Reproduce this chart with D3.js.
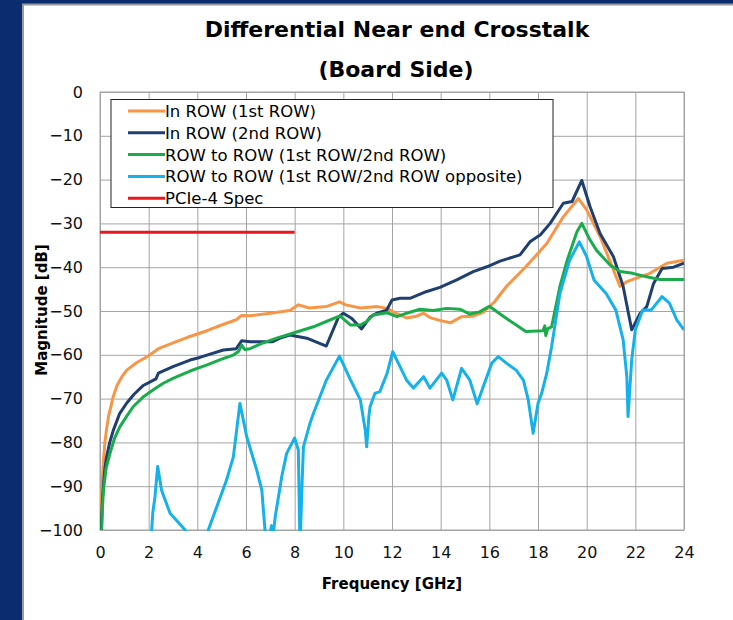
<!DOCTYPE html>
<meta charset="utf-8">
<title>Differential Near end Crosstalk</title>
<style>
body { margin: 0; background: #0b2a6b; }
svg { display: block; font-family: "DejaVu Sans", Verdana, sans-serif; }
.grid line, .grid path { stroke: #a4a4a4; stroke-width: 1; }
.tick text { fill: #111; font-size: 16px; }
</style>
<body>
<script src="https://cdn.jsdelivr.net/npm/d3@7"></script>
<script>
'use strict';

// values: [GHz, dB]
const inRow1 = [[0.02,-100],[0.06,-93],[0.12,-86],[0.2,-80],[0.27,-77],[0.35,-74],[0.44,-72],[0.54,-69.6],[0.7,-67],[0.9,-65],[1.1,-63.5],[1.5,-61.8],[2.0,-60.2],[2.4,-58.6],[3.0,-57.3],[3.6,-56],[4.4,-54.5],[4.8,-53.6],[5.6,-52],[5.82,-51],[6.17,-51.1],[7.0,-50.5],[7.8,-49.9],[8.15,-48.6],[8.6,-49.3],[9.3,-49],[9.84,-47.9],[10.1,-48.6],[10.7,-49.3],[11.4,-49],[11.8,-49.4],[12.05,-50.2],[12.6,-51.6],[13.0,-51.2],[13.3,-50.5],[13.56,-51.5],[14.0,-52.2],[14.4,-52.7],[14.85,-51.3],[15.3,-51.2],[15.75,-50.3],[16.2,-48],[16.7,-44.4],[17.5,-39.9],[18.36,-34.6],[19.04,-28.5],[19.66,-24.3],[20.0,-26.9],[20.55,-33],[21.1,-40.6],[21.37,-44.4],[21.65,-43.3],[22.05,-42.5],[22.6,-41.4],[23.3,-39.1],[24,-38.4]];

const inRow2 = [[0.05,-100],[0.1,-93],[0.14,-90],[0.2,-86],[0.27,-83.3],[0.4,-80],[0.55,-77.2],[0.8,-73.5],[1.1,-71],[1.4,-69],[1.78,-67],[2.2,-65.8],[2.3,-65.5],[2.4,-64.2],[3.0,-62.7],[3.7,-61.2],[4.1,-60.6],[5.07,-58.9],[5.6,-58.6],[5.82,-56.8],[6.17,-57],[7.1,-57],[7.4,-56.2],[7.8,-55.5],[8.5,-56.2],[9.3,-58],[9.8,-51.4],[10.0,-50.5],[10.35,-51.7],[10.75,-54.1],[11.1,-51.4],[11.37,-50.5],[11.78,-49.8],[12.0,-47.5],[12.33,-47.1],[12.74,-47.1],[13.4,-45.6],[13.97,-44.6],[14.66,-42.9],[15.34,-41],[15.9,-39.9],[16.44,-38.6],[17.26,-37.2],[17.67,-34.2],[18.1,-32.6],[18.5,-30],[19.04,-25.4],[19.4,-25],[19.8,-20.2],[20.14,-26.2],[20.55,-32.3],[21.1,-37.6],[21.5,-44.4],[21.85,-54.3],[22.2,-50.5],[22.47,-49],[22.75,-43.7],[23.1,-40.3],[23.57,-40],[24,-39.1]];

const rowToRow = [[0.07,-100],[0.1,-95],[0.14,-90.9],[0.25,-86],[0.41,-82.5],[0.6,-79],[0.82,-76.4],[1.1,-74],[1.37,-71.8],[1.8,-69.5],[2.19,-68],[2.6,-66.5],[3.0,-65.4],[3.7,-63.7],[4.4,-62.3],[5.0,-61],[5.5,-60],[5.7,-59.2],[5.82,-57.8],[5.95,-58.8],[6.17,-58.6],[6.6,-57.5],[7.26,-56.2],[8.08,-54.8],[8.77,-53.6],[9.3,-52.4],[9.86,-51.1],[10.3,-53.2],[10.7,-53.2],[10.96,-52.4],[11.23,-50.9],[11.8,-50.4],[12.2,-51.3],[12.6,-50.5],[13.15,-49.6],[13.7,-49.9],[14.25,-49.4],[14.8,-49.6],[15.2,-50.7],[15.6,-50.2],[16.0,-48.9],[16.6,-51.3],[17.5,-54.7],[18.2,-54.5],[18.28,-53.4],[18.32,-55.6],[18.4,-54],[18.56,-53.6],[18.9,-44.4],[19.2,-38.4],[19.6,-31.9],[19.8,-30],[20.14,-33.8],[20.4,-36.1],[20.96,-39.5],[21.37,-41],[21.9,-41.4],[22.47,-42.2],[23.0,-42.8],[24,-42.8]];

const rowOpposite = [[2.08,-104],[2.17,-96],[2.26,-92.4],[2.37,-85.5],[2.53,-90.9],[2.88,-96.2],[3.5,-100],[3.7,-103],[4.3,-103],[4.45,-100],[5.2,-88.6],[5.48,-83.3],[5.75,-71.1],[6.03,-78.7],[6.44,-86.3],[6.65,-90.9],[6.78,-100],[6.85,-103],[6.98,-101],[7.05,-99],[7.12,-101],[7.2,-97],[7.47,-87.8],[7.67,-82.5],[8.0,-79],[8.15,-81.7],[8.22,-104],[8.3,-90],[8.36,-81],[8.63,-75.6],[8.77,-73.4],[9.3,-65.8],[9.84,-60.3],[10.3,-65.8],[10.7,-70.3],[10.9,-77.2],[10.96,-81],[11.05,-74],[11.1,-71.8],[11.3,-68.8],[11.5,-68.4],[11.8,-64.2],[12.03,-59.3],[12.33,-62.7],[12.6,-65.8],[12.88,-67.6],[13.3,-65],[13.56,-67.6],[14.04,-64.2],[14.25,-65.8],[14.5,-70.3],[14.86,-63.1],[15.2,-65.8],[15.5,-71.2],[15.75,-67.3],[16.1,-61.9],[16.37,-60.4],[16.7,-61.9],[17.1,-63.5],[17.4,-65.8],[17.6,-70.3],[17.8,-77.9],[18.0,-71.1],[18.15,-68.8],[18.36,-64.2],[18.56,-58.1],[18.9,-46],[19.3,-38.4],[19.7,-34.2],[20.0,-37.6],[20.3,-42.9],[20.8,-46],[21.2,-49.8],[21.5,-56.6],[21.65,-65],[21.7,-74.1],[21.85,-61.2],[22.0,-54.3],[22.3,-49.8],[22.65,-49.8],[23.1,-46.7],[23.4,-48.2],[23.7,-52],[24,-54.3]];

const pcieSpec = [[0,-32],[8,-32]];

const seriesNames = ["In ROW (1st ROW)", "In ROW (2nd ROW)", "ROW to ROW (1st ROW/2nd ROW)", "ROW to ROW (1st ROW/2nd ROW opposite)", "PCIe-4 Spec"];
const seriesColors = ["#f79646", "#1f3f70", "#1aab4b", "#14b1ea", "#e8171b"];
const seriesData = [inRow1, inRow2, rowToRow, rowOpposite, pcieSpec];

const xTicks = d3.range(0, 25, 2);
const yTicks = d3.range(-100, 1, 10);

const W = 733, H = 620;
const plot = {left: 100, right: 684, top: 92, bottom: 530};

const svg = d3.select("body").append("svg")
    .attr("width", W)
    .attr("height", H);

// blue slide background + white panel
svg.append("rect").attr("width", W).attr("height", H).attr("fill", "#0c2c70");
svg.append("rect")
    .attr("x", 23).attr("y", 4.5)
    .attr("width", W).attr("height", H)
    .attr("fill", "#fff")
    .attr("stroke", "#9a9a9a")
    .attr("stroke-width", 2);

const x = d3.scaleLinear().domain([0, 24]).range([plot.left, plot.right]);
const y = d3.scaleLinear().domain([-100, 0]).range([plot.bottom, plot.top]);

// grid via axes
const gy = svg.append("g")
    .attr("class", "grid")
    .attr("transform", `translate(${plot.left},0)`)
    .call(d3.axisLeft(y).tickValues(yTicks).tickSize(-(plot.right - plot.left)).tickPadding(17));
const gx = svg.append("g")
    .attr("class", "grid")
    .attr("transform", `translate(0,${plot.bottom})`)
    .call(d3.axisBottom(x).tickValues(xTicks).tickSize(-(plot.bottom - plot.top)).tickPadding(17));
gy.select(".domain").remove();
gx.select(".domain").remove();
gy.selectAll("text").style("font-family", "DejaVu Sans");
gx.selectAll("text").style("font-family", "DejaVu Sans");

svg.append("rect")
    .attr("x", plot.left).attr("y", plot.top)
    .attr("width", plot.right - plot.left).attr("height", plot.bottom - plot.top)
    .attr("fill", "none").attr("stroke", "#a4a4a4");

svg.append("clipPath").attr("id", "clip")
  .append("rect")
    .attr("x", plot.left).attr("y", plot.top)
    .attr("width", plot.right - plot.left).attr("height", plot.bottom - plot.top + 1);

const line = d3.line().x(d => x(d[0])).y(d => y(d[1]));

svg.append("g").attr("clip-path", "url(#clip)")
  .selectAll("path")
  .data(seriesData)
  .join("path")
    .attr("d", line)
    .attr("fill", "none")
    .attr("stroke", (d, i) => seriesColors[i])
    .attr("stroke-width", 3)
    .attr("stroke-linejoin", "round");

// legend
const lg = svg.append("g");
lg.append("rect")
    .attr("x", 111).attr("y", 99.5)
    .attr("width", 442).attr("height", 108)
    .attr("fill", "#fff").attr("stroke", "#222").attr("stroke-width", 1);
const item = lg.selectAll("g.item")
  .data(seriesNames)
  .join("g")
    .attr("class", "item")
    .attr("transform", (d, i) => `translate(0,${111 + i * 21.8})`);
item.append("line")
    .attr("x1", 128).attr("x2", 165)
    .attr("stroke", (d, i) => seriesColors[i])
    .attr("stroke-width", 3);
item.append("text")
    .attr("x", 165).attr("dy", "0.36em")
    .style("font-size", "16.5px")
    .text(d => d);

// titles
svg.append("text")
    .attr("x", 397).attr("y", 37)
    .attr("text-anchor", "middle")
    .style("font-size", "22px").style("font-weight", "bold")
    .text("Differential Near end Crosstalk");
svg.append("text")
    .attr("x", 396).attr("y", 77)
    .attr("text-anchor", "middle")
    .style("font-size", "22px").style("font-weight", "bold")
    .text("(Board Side)");

svg.append("text")
    .attr("x", 392).attr("y", 589)
    .attr("text-anchor", "middle")
    .style("font-size", "15px").style("font-weight", "bold")
    .text("Frequency [GHz]");
svg.append("text")
    .attr("transform", "translate(47,310) rotate(-90)")
    .attr("text-anchor", "middle")
    .style("font-size", "15px").style("font-weight", "bold")
    .text("Magnitude [dB]");
</script>
